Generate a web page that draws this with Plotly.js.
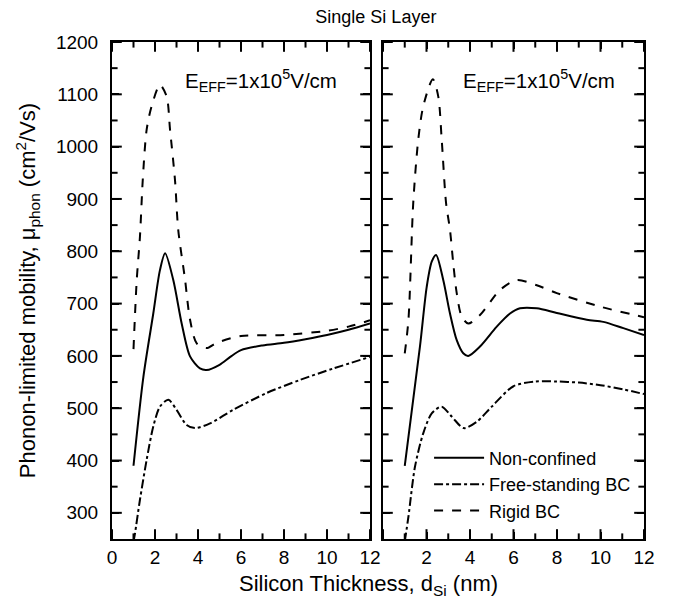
<!DOCTYPE html>
<html>
<head>
<meta charset="utf-8">
<script src="https://cdn.plot.ly/plotly-3.0.1.min.js"></script>
<style>html,body{margin:0;padding:0;background:#fff;}#chart{width:677px;height:605px;}.modebar-container{display:none !important;}</style>
</head>
<body>
<div id="chart"></div>
<script>
// ---- Left panel data ----
const ncLx = [1, 1.46, 1.92, 2.23, 2.47, 2.85, 3.24, 3.63, 4.09, 4.4, 5.0, 5.5, 6, 7, 8, 9, 10, 11, 12];
const ncLy = [390, 560, 681, 764, 796, 745, 662, 599, 576, 573, 583, 598, 611, 620, 625, 632, 640, 650, 662];

const fsLx = [1, 1.07, 1.3, 1.61, 1.92, 2.23, 2.62, 3.0, 3.47, 3.86, 4.56, 5.64, 7.19, 8.74, 10.3, 12];
const fsLy = [245, 261, 325, 401, 465, 503, 516, 497, 468, 462, 471, 497, 529, 554, 576, 598];

const rgLx = [1, 1.15, 1.3, 1.43, 1.61, 1.84, 2.23, 2.54, 2.7, 2.93, 3.08, 3.4, 3.63, 3.94, 4.4, 4.87, 6, 8, 10, 11, 12];
const rgLy = [613, 745, 828, 936, 1032, 1077, 1118, 1096, 1032, 936, 841, 745, 669, 624, 615, 625, 638, 640, 648, 656, 668];

// ---- Right panel data ----
const ncRx = [1, 1.7, 2.01, 2.24, 2.44, 2.77, 3.08, 3.39, 3.69, 3.92, 4.46, 5.23, 5.84, 6.3, 7.07, 7.99, 9.37, 10.13, 11.05, 12];
const ncRy = [390, 618, 732, 780, 793, 745, 681, 630, 605, 600, 618, 656, 681, 691, 691, 682, 669, 665, 653, 640];

const fsRx = [1, 1.17, 1.47, 1.85, 2.24, 2.7, 3.16, 3.71, 4.31, 5.0, 6.0, 7, 8, 9, 10, 11.05, 12];
const fsRy = [245, 293, 388, 452, 490, 503, 484, 462, 474, 503, 542, 551, 551, 549, 544, 536, 527];

const rgRx = [1, 1.17, 1.39, 1.62, 1.85, 2.29, 2.54, 2.7, 2.9, 3.08, 3.23, 3.39, 3.62, 3.92, 4.46, 5.38, 6.15, 7.07, 7.99, 10, 12];
const rgRy = [605, 669, 892, 1013, 1077, 1129, 1096, 1013, 892, 841, 777, 720, 675, 662, 678, 726, 745, 735, 720, 694, 674];

const seriesNames = ["Non-confined", "Free-standing BC", "Rigid BC"];
const fieldLabel = "E<sub>EFF</sub>=1x10<sup>5</sup>V/cm";

// ---- Axis ranges and tick values ----
const xRange = [0, 12];
const yRange = [250, 1200];
const xMajorTicks = [0, 2, 4, 6, 8, 10, 12];
const xMinorTicks = [1, 3, 5, 7, 9, 11];
const yMajorTicks = [300, 400, 500, 600, 700, 800, 900, 1000, 1100, 1200];
const yMinorTicks = [350, 450, 550, 650, 750, 850, 950, 1050, 1150];

const FONT = "Liberation Sans, Arial, Helvetica, sans-serif";

function tr(x, y, name, dash, xa, ya, showLeg) {
  return {
    x: x, y: y, name: name, type: "scatter", mode: "lines",
    line: {color: "#000", width: 2, dash: dash, shape: "spline", smoothing: 0.8},
    xaxis: xa, yaxis: ya, showlegend: showLeg, hoverinfo: "skip"
  };
}

// Inward tick marks on all four frame sides, placed through the axes' own scales
// (markers centred on the frame edge; the half outside the plot area is clipped).
function tickMarks(xa, ya) {
  const out = [];
  function add(xs, ys, symbol, size) {
    out.push({x: xs, y: ys, type: "scatter", mode: "markers", xaxis: xa, yaxis: ya,
      showlegend: false, hoverinfo: "skip", cliponaxis: true,
      marker: {symbol: symbol, size: size, color: "#000", line: {color: "#000", width: 2}}});
  }
  const both = (arr, a, b) => arr.map(() => a).concat(arr.map(() => b));
  add(xMajorTicks.concat(xMajorTicks), both(xMajorTicks, yRange[0], yRange[1]), "line-ns", 14);
  add(xMinorTicks.concat(xMinorTicks), both(xMinorTicks, yRange[0], yRange[1]), "line-ns", 8);
  add(both(yMajorTicks, xRange[0], xRange[1]), yMajorTicks.concat(yMajorTicks), "line-ew", 14);
  add(both(yMinorTicks, xRange[0], xRange[1]), yMinorTicks.concat(yMinorTicks), "line-ew", 8);
  return out;
}

const data = [
  tr(ncLx, ncLy, seriesNames[0], "solid", "x", "y", false),
  tr(fsLx, fsLy, seriesNames[1], "dashdot", "x", "y", false),
  tr(rgLx, rgLy, seriesNames[2], "dash", "x", "y", false),
  tr(ncRx, ncRy, seriesNames[0], "solid", "x2", "y2", true),
  tr(fsRx, fsRy, seriesNames[1], "dashdot", "x2", "y2", true),
  tr(rgRx, rgRy, seriesNames[2], "dash", "x2", "y2", true)
].concat(tickMarks("x", "y"), tickMarks("x2", "y2"));

const axBase = {
  showline: true, linecolor: "#000", linewidth: 2, mirror: "ticks",
  ticks: "inside", ticklen: 7, tickwidth: 2, tickcolor: "#000", layer: "above traces",
  showgrid: false, zeroline: false,
  tickfont: {family: FONT, size: 19, color: "#000"}
};
const xAx = {range: xRange, tickmode: "array", tickvals: xMajorTicks};
const yAx = {domain: [0, 1], range: yRange, tickmode: "array", tickvals: yMajorTicks};

const layout = {
  width: 677, height: 605,
  margin: {l: 112, r: 33, t: 42, b: 66},
  paper_bgcolor: "#fff", plot_bgcolor: "#fff",
  font: {family: FONT, color: "#000"},
  title: {text: "Single Si Layer", font: {family: FONT, size: 18, color: "#000"},
          x: 0.496, xref: "paper", y: 0.972, yref: "container", xanchor: "center", yanchor: "middle"},
  xaxis: Object.assign({}, axBase, xAx, {domain: [0, 0.485], anchor: "y"}),
  xaxis2: Object.assign({}, axBase, xAx, {domain: [0.5094, 1], anchor: "y2", labelalias: {"0": ""}}),
  yaxis: Object.assign({}, axBase, yAx, {anchor: "x", ticklabelstandoff: 8,
    title: {text: "Phonon-limited mobility, μ<sub>phon</sub> (cm<sup>2</sup>/Vs)",
            font: {family: FONT, size: 22, color: "#000"}, standoff: 14}
  }),
  yaxis2: Object.assign({}, axBase, yAx, {anchor: "x2", showticklabels: false}),
  showlegend: true,
  legend: {
    x: 0.596, y: 0.2, xref: "paper", yref: "paper", xanchor: "left", yanchor: "top",
    bgcolor: "rgba(0,0,0,0)", borderwidth: 0,
    font: {family: FONT, size: 18, color: "#000"}, itemwidth: 50
  },
  annotations: [
    {xref: "x", yref: "y", x: 3.29, y: 1126, xanchor: "left", yanchor: "middle", showarrow: false,
     text: fieldLabel, font: {family: FONT, size: 20.5, color: "#000"}},
    {xref: "x2", yref: "y2", x: 3.57, y: 1126, xanchor: "left", yanchor: "middle", showarrow: false,
     text: fieldLabel, font: {family: FONT, size: 20.5, color: "#000"}},
    {xref: "paper", yref: "paper", x: (368 - 112) / 532, y: -46 / 497, xanchor: "center", yanchor: "middle", showarrow: false,
     text: "Silicon Thickness, d<sub>Si</sub> (nm)", font: {family: FONT, size: 22, color: "#000"}}
  ]
};

Plotly.newPlot("chart", data, layout);
</script>
</body>
</html>
